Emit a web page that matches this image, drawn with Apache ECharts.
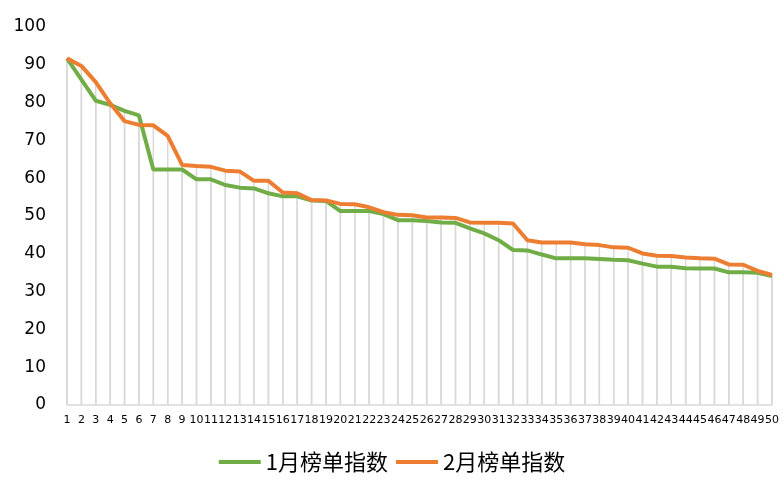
<!DOCTYPE html>
<html>
<head>
<meta charset="utf-8">
<script src="https://cdn.jsdelivr.net/npm/echarts@6/dist/echarts.min.js"></script>
<style>
html, body { margin: 0; padding: 0; background: #fff; }
#chart { width: 784px; height: 489px; }
</style>
</head>
<body>
<div id="chart"></div>
<script>
// 排名 1-50
const categories = []
for (let i = 1; i <= 50; i++) categories.push(String(i))

const jan = [91.7, 86.1, 80.5, 79.4, 77.8, 76.6, 62.3, 62.3, 62.3, 59.7,
             59.7, 58.2, 57.5, 57.3, 56.0, 55.2, 55.2, 54.1, 54.0, 51.3,
             51.3, 51.3, 50.5, 48.9, 48.9, 48.7, 48.3, 48.2, 46.7, 45.4,
             43.6, 41.0, 40.9, 39.8, 38.8, 38.8, 38.8, 38.6, 38.4, 38.3,
             37.4, 36.6, 36.6, 36.2, 36.1, 36.1, 35.1, 35.1, 35.0, 34.1]

const feb = [91.7, 89.7, 85.4, 79.8, 75.1, 74.1, 74.0, 71.2, 63.5, 63.2,
             63.0, 62.0, 61.8, 59.3, 59.3, 56.2, 56.0, 54.2, 54.1, 53.2,
             53.1, 52.3, 51.0, 50.3, 50.2, 49.6, 49.6, 49.5, 48.3, 48.2,
             48.2, 48.0, 43.6, 43.0, 43.0, 43.0, 42.5, 42.3, 41.7, 41.6,
             40.1, 39.5, 39.4, 39.0, 38.8, 38.7, 37.2, 37.1, 35.5, 34.4]

const chart = echarts.init(document.getElementById('chart'))

// 垂直线 (drop lines)
const dropLine = (name, data) => ({
    name: name,
    type: 'bar',
    data: data,
    barWidth: 1.5,
    barGap: '-100%',
    silent: true,
    z: 1,
    itemStyle: { color: '#d9d9d9' }
})

const option = {
    backgroundColor: '#fff',
    animation: false,
    grid: {
        left: 67,
        right: 12,
        top: 27,
        bottom: 84
    },
    legend: {
        bottom: 11,
        left: 'center',
        icon: 'rect',
        itemWidth: 42,
        itemHeight: 4,
        itemGap: 8,
        textStyle: {
            fontSize: 22,
            color: '#000',
            fontFamily: 'Noto Sans CJK SC'
        },
        data: ['1月榜单指数', '2月榜单指数']
    },
    xAxis: {
        type: 'category',
        boundaryGap: false,
        data: categories,
        axisLine: { lineStyle: { color: '#d9d9d9', width: 1.5 } },
        axisTick: { show: false },
        splitLine: { show: false },
        axisLabel: {
            interval: 0,
            margin: 10,
            fontSize: 11,
            color: '#000',
            fontFamily: 'DejaVu Sans'
        }
    },
    yAxis: {
        type: 'value',
        min: 0,
        max: 100,
        interval: 10,
        axisLine: { show: false },
        axisTick: { show: false },
        splitLine: { show: false },
        axisLabel: {
            margin: 21,
            fontSize: 17,
            color: '#000',
            fontFamily: 'DejaVu Sans'
        }
    },
    series: [
        dropLine('drop1', jan),
        dropLine('drop2', feb),
        {
            name: '1月榜单指数',
            type: 'line',
            data: jan,
            z: 3,
            showSymbol: false,
            symbol: 'none',
            itemStyle: { color: '#70AD47' },
            lineStyle: { color: '#70AD47', width: 4 }
        },
        {
            name: '2月榜单指数',
            type: 'line',
            data: feb,
            z: 3,
            showSymbol: false,
            symbol: 'none',
            itemStyle: { color: '#ED7D31' },
            lineStyle: { color: '#ED7D31', width: 4 }
        }
    ]
}
chart.setOption(option)
</script>
</body>
</html>
